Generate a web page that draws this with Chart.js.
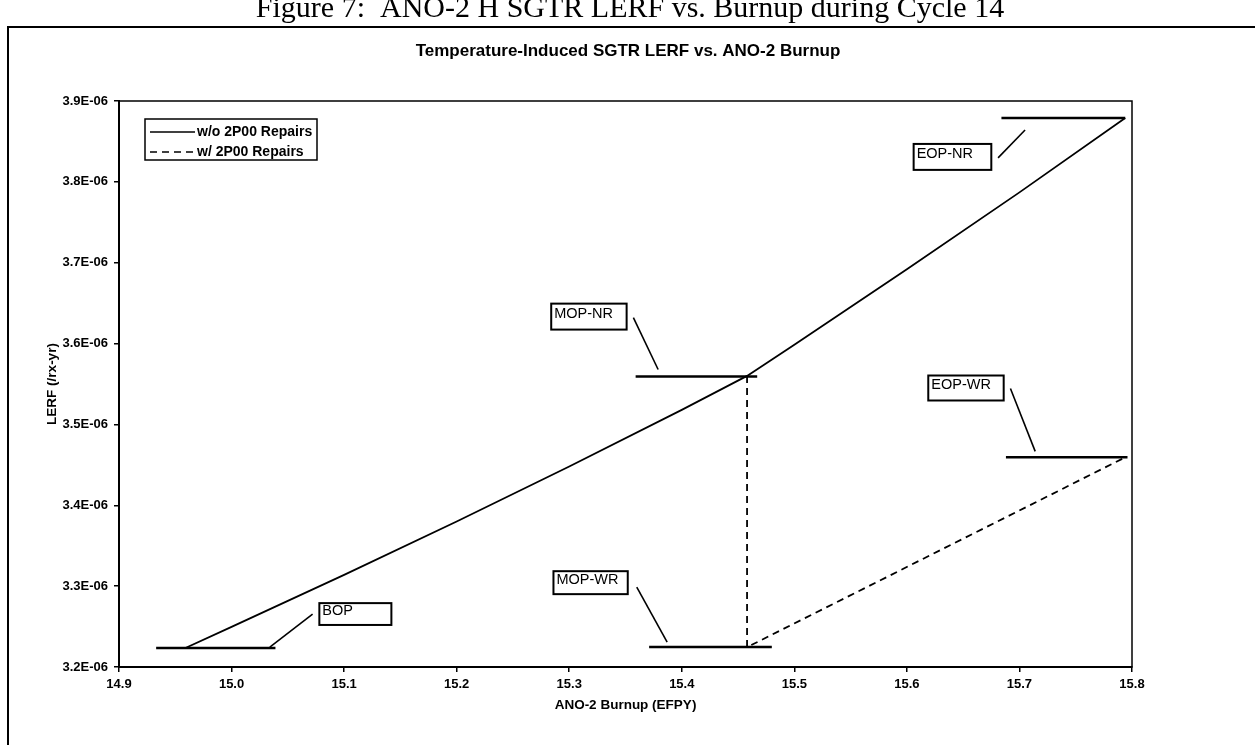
<!DOCTYPE html>
<html><head><meta charset="utf-8">
<script src="https://cdn.jsdelivr.net/npm/chart.js@4.4.1/dist/chart.umd.min.js"></script>
<style>html,body{margin:0;padding:0;background:#fff;overflow:hidden}canvas{display:block}</style>
</head><body>
<canvas id="c" width="1255" height="745"></canvas>
<script>
// ---- data ----
const xTickLabels = ['14.9','15.0','15.1','15.2','15.3','15.4','15.5','15.6','15.7','15.8'];
const yTickLabels = ['3.2E-06','3.3E-06','3.4E-06','3.5E-06','3.6E-06','3.7E-06','3.8E-06','3.9E-06'];
const seriesNames = ['w/o 2P00 Repairs','w/ 2P00 Repairs'];
// LERF in units of 1E-06 /rx-yr
const noRepairX = [14.959, 15.0, 15.1, 15.2, 15.3, 15.4, 15.458, 15.5, 15.6, 15.7, 15.794];
const noRepairY = [3.2235, 3.2497, 3.314, 3.380, 3.448, 3.518, 3.560, 3.5986, 3.692, 3.787, 3.879];
const repairX = [15.458, 15.458, 15.794];
const repairY = [3.560, 3.2245, 3.4593];
// callouts (data units)
const calloutText  = ['BOP','MOP-NR','MOP-WR','EOP-NR','EOP-WR'];
const barX1  = [14.933, 15.359, 15.371, 15.684, 15.688];
const barX2  = [15.039, 15.467, 15.480, 15.794, 15.796];
const barY   = [3.2235, 3.5593, 3.2247, 3.879, 3.4593];
const leadX1 = [15.034, 15.379, 15.387, 15.681, 15.714];
const leadY1 = [3.2247, 3.5679, 3.2309, 3.8296, 3.4667];
const leadX2 = [15.072, 15.357, 15.360, 15.705, 15.692];
const leadY2 = [3.2654, 3.6321, 3.2988, 3.8642, 3.5444];
const boxX1  = [15.078, 15.284, 15.286, 15.606, 15.619];
const boxX2  = [15.142, 15.351, 15.352, 15.675, 15.686];
const boxYTop= [3.279, 3.6494, 3.3185, 3.8469, 3.5605];
const boxYBot= [3.252, 3.6173, 3.2901, 3.8148, 3.5296];

const captionText = 'Figure 7:  ANO-2 H SGTR LERF vs. Burnup during Cycle 14';
const chartTitle = 'Temperature-Induced SGTR LERF vs. ANO-2 Burnup';

const toPts = (xs, ys) => xs.map((x, i) => ({x, y: ys[i]}));
const FONT = "'Liberation Sans', Arial, sans-serif";

const decor = {
  id: 'decor',
  afterDatasetsDraw(chart) {
    const ctx = chart.ctx, sx = chart.scales.x, sy = chart.scales.y;
    const X = v => sx.getPixelForValue(v), Y = v => sy.getPixelForValue(v);
    ctx.save();
    ctx.strokeStyle = '#000';
    ctx.lineCap = 'butt';
    for (let i = 0; i < calloutText.length; i++) {
      ctx.lineWidth = 2.5;
      ctx.beginPath(); ctx.moveTo(X(barX1[i]), Y(barY[i])); ctx.lineTo(X(barX2[i]), Y(barY[i])); ctx.stroke();
      ctx.lineWidth = 1.6;
      ctx.beginPath(); ctx.moveTo(X(leadX1[i]), Y(leadY1[i])); ctx.lineTo(X(leadX2[i]), Y(leadY2[i])); ctx.stroke();
      const bx = X(boxX1[i]), by = Y(boxYTop[i]), bw = X(boxX2[i]) - bx, bh = Y(boxYBot[i]) - by;
      ctx.fillStyle = '#fff'; ctx.fillRect(bx, by, bw, bh);
      ctx.lineWidth = 2; ctx.strokeRect(bx, by, bw, bh);
      ctx.fillStyle = '#000'; ctx.font = '14.5px ' + FONT; ctx.textBaseline = 'middle'; ctx.textAlign = 'left';
      ctx.fillText(calloutText[i], bx + 3, by + bh / 2 - 3);
    }
    ctx.restore();
  },
  afterDraw(chart) {
    const ctx = chart.ctx, a = chart.chartArea;
    ctx.save();
    // plot-area border
    ctx.strokeStyle = '#000'; ctx.lineWidth = 1.5;
    ctx.strokeRect(a.left, a.top, a.right - a.left, a.bottom - a.top);
    // outer frame
    ctx.lineWidth = 2;
    ctx.beginPath(); ctx.moveTo(8, 745); ctx.lineTo(8, 27); ctx.lineTo(1255, 27); ctx.stroke();
    // caption (cut at top)
    ctx.fillStyle = '#000'; ctx.textAlign = 'center'; ctx.textBaseline = 'alphabetic';
    ctx.font = "30px 'Liberation Serif', 'Times New Roman', serif";
    ctx.fillText(captionText, 630, 17);
    // chart title
    ctx.font = 'bold 17px ' + FONT; ctx.textBaseline = 'middle';
    ctx.fillText(chartTitle, 628, 51);
    // legend
    const lx = 145, ly = 119;
    ctx.lineWidth = 1.5; ctx.strokeRect(lx, ly, 172, 41);
    const ds = chart.data.datasets;
    ctx.font = 'bold 14px ' + FONT; ctx.textAlign = 'left';
    [132, 152].forEach((yy, i) => {
      ctx.setLineDash(ds[i].borderDash || []); ctx.lineWidth = 1.5;
      ctx.beginPath(); ctx.moveTo(lx + 5, yy); ctx.lineTo(lx + 50, yy); ctx.stroke();
      ctx.setLineDash([]);
      ctx.fillText(ds[i].label, lx + 52, yy);
    });
    ctx.restore();
  }
};

new Chart(document.getElementById('c'), {
  type: 'scatter',
  data: {
    datasets: [
      { label: seriesNames[0], data: toPts(noRepairX, noRepairY), showLine: true, borderColor: '#000', borderWidth: 1.8, pointRadius: 0, tension: 0 },
      { label: seriesNames[1], data: toPts(repairX, repairY), showLine: true, borderColor: '#000', borderWidth: 1.8, borderDash: [7, 5], pointRadius: 0, tension: 0 }
    ]
  },
  options: {
    responsive: false, animation: false, devicePixelRatio: 1,
    layout: { padding: { left: 0, top: 101, right: 123, bottom: 0 } },
    plugins: { legend: { display: false }, tooltip: { enabled: false }, title: { display: false } },
    scales: {
      x: {
        type: 'linear', min: 14.9, max: 15.8,
        afterFit: s => { s.height = 78; },
        ticks: { stepSize: 0.1, padding: 5, color: '#000', font: { family: FONT, size: 13, weight: 'bold' },
                 callback: (v, i) => xTickLabels[i] },
        grid: { display: true, drawOnChartArea: false, drawTicks: true, tickLength: 5, color: '#000', lineWidth: 1.5 },
        border: { display: true, color: '#000', width: 2 },
        title: { display: true, text: 'ANO-2 Burnup (EFPY)', color: '#000', font: { family: FONT, size: 13.5, weight: 'bold' }, padding: { top: 0, bottom: 32 } }
      },
      y: {
        type: 'linear', min: 3.2, max: 3.9,
        afterFit: s => { s.width = 119; },
        ticks: { stepSize: 0.1, padding: 6, color: '#000', font: { family: FONT, size: 13, weight: 'bold' },
                 callback: (v, i) => yTickLabels[i] },
        grid: { display: true, drawOnChartArea: false, drawTicks: true, tickLength: 5, color: '#000', lineWidth: 1.5 },
        border: { display: true, color: '#000', width: 2 },
        title: { display: true, text: 'LERF (/rx-yr)', color: '#000', font: { family: FONT, size: 13.5, weight: 'bold' }, padding: { top: 44, bottom: 0 } }
      }
    }
  },
  plugins: [decor]
});
</script>
</body></html>
